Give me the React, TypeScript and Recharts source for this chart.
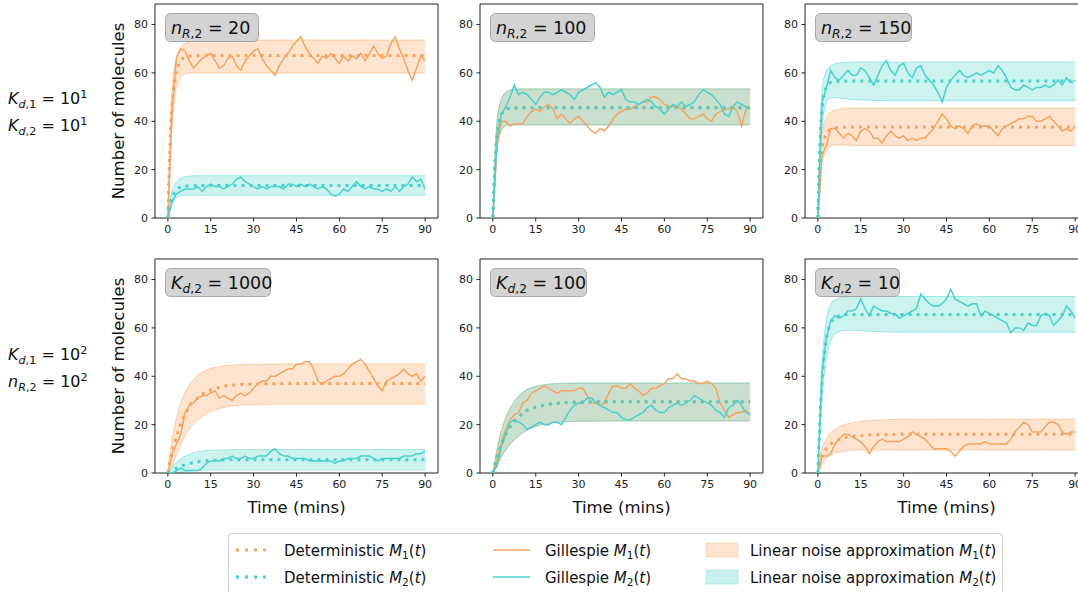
import React from "react";
import {
  ComposedChart,
  Area,
  Line,
  XAxis,
  YAxis,
  ReferenceArea,
} from "recharts";

const ORANGE = "#F4A460";
const CYAN = "#48D1CC";
const FONT = "DejaVu Sans";

const X_TICKS = [0, 15, 30, 45, 60, 75, 90];
const Y_TICKS = [0, 20, 40, 60, 80];

// time grid for deterministic curves and noise bands
const T_DET = [0, 0.5, 1, 1.5, 2, 3, 4, 5, 6, 8, 10, 12, 15, 20, 25, 30, 40, 50, 60, 70, 80, 90];

// time grid for Gillespie traces
const T_GIL = [
  0, 1.5, 3, 4.5, 6, 7.5, 9, 10.5, 12, 13.5,
  15, 16.5, 18, 19.5, 21, 22.5, 24, 25.5, 27, 28.5,
  30, 31.5, 33, 34.5, 36, 37.5, 39, 40.5, 42, 43.5,
  45, 46.5, 48, 49.5, 51, 52.5, 54, 55.5, 57, 58.5,
  60, 61.5, 63, 64.5, 66, 67.5, 69, 70.5, 72, 73.5,
  75, 76.5, 78, 79.5, 81, 82.5, 84, 85.5, 87, 88.5,
  90,
];

// ---- panel A: n_R,2 = 20
const A_DET1 = [0, 22, 37, 47, 53.5, 61, 64.3, 65.8, 66.5, 67, 67.1, 67.2, 67.2, 67.2, 67.2, 67.2, 67.2, 67.2, 67.2, 67.2, 67.2, 67.2];
const A_HI1 = [0, 27, 44, 54, 60.5, 67, 70, 71.5, 72.2, 73, 73.3, 73.5, 73.6, 73.6, 73.6, 73.6, 73.6, 73.6, 73.6, 73.6, 73.6, 73.6];
const A_LO1 = [0, 16, 30, 39, 46, 54, 57.5, 59, 59.6, 60, 60, 60, 60, 60, 60, 60, 60, 60, 60, 60, 60, 60];
const A_DET2 = [0, 3.5, 6.5, 8.5, 10, 11.8, 12.6, 13, 13.2, 13.3, 13.4, 13.4, 13.4, 13.4, 13.4, 13.4, 13.4, 13.4, 13.4, 13.4, 13.4, 13.4];
const A_HI2 = [0, 5, 9, 11.5, 13, 15, 16.2, 16.8, 17.1, 17.4, 17.5, 17.5, 17.5, 17.5, 17.5, 17.5, 17.5, 17.5, 17.5, 17.5, 17.5, 17.5];
const A_LO2 = [0, 2, 4, 5.5, 7, 8.5, 9.1, 9.3, 9.4, 9.4, 9.4, 9.4, 9.4, 9.4, 9.4, 9.4, 9.4, 9.4, 9.4, 9.4, 9.4, 9.4];
const A_GIL1 = [
  0, 45, 66, 70, 69, 65, 62, 64, 66, 67,
  68, 65, 62, 63, 66, 67, 63, 61, 65, 67,
  69, 70, 66, 63, 61, 59, 63, 66, 68, 71,
  73, 75, 71, 68, 66, 64, 67, 66, 68, 66,
  64, 67, 65, 67, 66, 68, 65, 68, 71, 68,
  66, 67, 72, 75, 70, 66, 61, 57, 62, 67,
  65,
];
const A_GIL2 = [
  0, 7, 10, 11, 12, 12, 12, 13, 11, 13,
  14, 13, 13, 12, 13, 14, 16, 17, 15, 14,
  13, 12, 13, 12, 13, 13, 13, 12, 14, 14,
  13, 14, 13, 14, 13, 12, 13, 12, 10, 9,
  10, 12, 11, 13, 15, 13, 12, 13, 12, 12,
  11, 12, 11, 13, 11, 13, 14, 17, 15, 16,
  12,
];

// ---- panel B: n_R,2 = 100
const B_DET1 = [0, 16, 28, 35, 39, 43, 44.5, 45.2, 45.4, 45.5, 45.6, 45.6, 45.6, 45.6, 45.6, 45.6, 45.6, 45.6, 45.6, 45.6, 45.6, 45.6];
const B_HI1 = [0, 20, 33, 41, 45, 49.5, 51.5, 52.5, 53, 53.3, 53.4, 53.4, 53.4, 53.4, 53.4, 53.4, 53.4, 53.4, 53.4, 53.4, 53.4, 53.4];
const B_LO1 = [0, 12, 23, 29, 33, 36.5, 37.8, 38.3, 38.5, 38.5, 38.5, 38.5, 38.5, 38.5, 38.5, 38.5, 38.5, 38.5, 38.5, 38.5, 38.5, 38.5];
const B_DET2 = [0, 16, 28, 35, 39, 43, 44.5, 45.2, 45.4, 45.5, 45.6, 45.6, 45.6, 45.6, 45.6, 45.6, 45.6, 45.6, 45.6, 45.6, 45.6, 45.6];
const B_HI2 = [0, 20, 33, 41, 45, 49.5, 51.5, 52.5, 53, 53.3, 53.4, 53.4, 53.4, 53.4, 53.4, 53.4, 53.4, 53.4, 53.4, 53.4, 53.4, 53.4];
const B_LO2 = [0, 12, 23, 29, 33, 36.5, 37.8, 38.3, 38.5, 38.5, 38.5, 38.5, 38.5, 38.5, 38.5, 38.5, 38.5, 38.5, 38.5, 38.5, 38.5, 38.5];
const B_GIL1 = [
  0, 30, 40, 40, 38, 39, 39, 39, 42, 44,
  45, 44, 46, 47, 45, 41, 43, 41, 39, 41,
  42, 40, 38, 36, 35, 37, 36, 38, 41, 43,
  44, 45, 45, 46, 47, 48, 48, 50, 50, 49,
  47, 46, 46, 46, 45, 43, 41, 41, 42, 43,
  41, 40, 43, 44, 45, 45, 46, 44, 38, 45,
  46,
];
const B_GIL2 = [
  0, 34, 43, 46, 50, 55, 51, 52, 51, 49,
  47, 50, 52, 52, 51, 52, 53, 52, 51, 49,
  52, 53, 54, 55, 56, 54, 50, 52, 51, 52,
  53, 49, 48, 48, 47, 48, 49, 48, 46, 45,
  43, 45, 47, 46, 48, 46, 47, 48, 51, 53,
  52, 51, 49, 47, 43, 42, 46, 48, 47, 46,
  45,
];

// ---- panel C: n_R,2 = 150
const C_DET1 = [0, 17, 25, 29.5, 32, 35, 36.3, 37, 37.3, 37.5, 37.6, 37.6, 37.6, 37.6, 37.6, 37.6, 37.6, 37.6, 37.6, 37.6, 37.6, 37.6];
const C_HI1 = [0, 21, 31, 36, 39, 42, 43.5, 44.3, 44.8, 45.2, 45.4, 45.5, 45.5, 45.5, 45.5, 45.5, 45.5, 45.5, 45.5, 45.5, 45.5, 45.5];
const C_LO1 = [0, 13, 19.5, 23.5, 25.5, 28, 29.3, 30, 30.2, 30.2, 30.1, 30, 30, 30, 30, 30, 30, 30, 30, 30, 30, 30];
const C_DET2 = [0, 24, 38, 46, 50.5, 54.5, 55.8, 56.3, 56.5, 56.6, 56.7, 56.7, 56.7, 56.7, 56.7, 56.7, 56.7, 56.7, 56.7, 56.7, 56.7, 56.7];
const C_HI2 = [0, 30, 45, 53, 57.5, 61, 62.5, 63.3, 63.8, 64.2, 64.4, 64.5, 64.5, 64.5, 64.5, 64.5, 64.5, 64.5, 64.5, 64.5, 64.5, 64.5];
const C_LO2 = [0, 18, 31, 39, 43.5, 48, 49.5, 49.8, 49.8, 49.5, 49.2, 49, 48.8, 48.6, 48.5, 48.5, 48.5, 48.5, 48.5, 48.5, 48.5, 48.5];
const C_GIL1 = [
  0, 26, 30, 37, 37, 35, 33, 35, 34, 32,
  36, 37, 36, 33, 33, 31, 34, 36, 34, 33,
  34, 32, 33, 32, 33, 33, 35, 37, 40, 43,
  41, 38, 37, 38, 37, 35, 38, 39, 38, 38,
  38, 36, 34, 37, 38, 39, 40, 41, 41, 42,
  42, 40, 40, 41, 42, 40, 38, 36, 37, 36,
  38,
];
const C_GIL2 = [
  0, 48, 54, 61, 58, 57, 59, 61, 59, 59,
  62, 61, 58, 55, 59, 63, 65, 61, 59, 63,
  64, 60, 58, 62, 63, 59, 57, 55, 52, 48,
  54, 57, 59, 61, 59, 58, 59, 60, 59, 60,
  61, 60, 63, 61, 58, 54, 53, 53, 55, 54,
  53, 54, 54, 55, 54, 55, 57, 55, 58, 56,
  57,
];

// ---- panel D: K_d,2 = 1000
const D_DET1 = [0, 3.2, 6, 8.6, 11, 15.2, 18.8, 21.7, 24.2, 28.5, 30.7, 32.6, 34.4, 36, 36.6, 36.8, 37, 37, 37, 37, 37, 37];
const D_HI1 = [0, 6, 10.5, 14.5, 17.5, 23, 27, 30.5, 33.5, 37.5, 40, 41.8, 43.3, 44.4, 44.8, 45, 45.1, 45.1, 45.1, 45.1, 45.1, 45.1];
const D_LO1 = [0, 0.5, 1.5, 2.8, 4.5, 7.5, 10.5, 13, 15.2, 19, 21.5, 23.5, 25.5, 27.3, 28, 28.3, 28.5, 28.5, 28.5, 28.5, 28.5, 28.5];
const D_DET2 = [0, 0.3, 0.7, 1, 1.3, 1.9, 2.5, 3, 3.4, 4.1, 4.6, 4.9, 5.2, 5.4, 5.5, 5.5, 5.5, 5.5, 5.5, 5.5, 5.5, 5.5];
const D_HI2 = [0, 0.8, 1.6, 2.4, 3.1, 4.4, 5.4, 6.3, 7, 8, 8.7, 9.1, 9.4, 9.6, 9.7, 9.7, 9.7, 9.7, 9.7, 9.7, 9.7, 9.7];
const D_LO2 = [0, 0, 0, 0, 0, 0, 0.2, 0.4, 0.5, 0.8, 1, 1.1, 1.2, 1.3, 1.3, 1.3, 1.3, 1.3, 1.3, 1.3, 1.3, 1.3];
const D_GIL1 = [
  0, 8, 12, 16, 25, 28, 29, 31, 32, 32,
  33, 34, 31, 32, 31, 30, 32, 33, 32, 33,
  35, 37, 38, 38, 40, 40, 41, 42, 43, 43,
  45, 45, 46, 46, 43, 38, 37, 38, 39, 40,
  40, 41, 43, 45, 46, 47, 45, 42, 39, 36,
  34, 38, 39, 40, 41, 43, 41, 40, 41, 38,
  40,
];
const D_GIL2 = [
  0, 0, 1, 2, 1, 1, 1, 1, 2, 4,
  5, 5, 5, 6, 6, 7, 6, 6, 7, 6,
  6, 7, 7, 7, 9, 10, 8, 7, 7, 6,
  6, 6, 6, 5, 5, 5, 5, 5, 5, 4,
  5, 5, 6, 6, 6, 7, 7, 7, 6, 5,
  6, 6, 6, 6, 6, 7, 7, 7, 8, 8,
  9,
];

// ---- panel E: K_d,2 = 100
const E_DET1 = [0, 2.4, 4.6, 6.7, 8.6, 12, 14.8, 17.1, 19.1, 22.1, 24.3, 25.9, 27.3, 28.5, 29.1, 29.3, 29.5, 29.5, 29.5, 29.5, 29.5, 29.5];
const E_HI1 = [0, 3.5, 7, 10, 12.8, 17.5, 21.3, 24.3, 26.8, 30.5, 33, 34.6, 35.9, 36.8, 37.1, 37.2, 37.2, 37.2, 37.2, 37.2, 37.2, 37.2];
const E_LO1 = [0, 1.3, 2.4, 3.4, 4.5, 6.6, 8.6, 10.3, 11.8, 14.3, 16.2, 17.8, 19.3, 20.7, 21.2, 21.4, 21.5, 21.5, 21.5, 21.5, 21.5, 21.5];
const E_DET2 = [0, 2.4, 4.6, 6.7, 8.6, 12, 14.8, 17.1, 19.1, 22.1, 24.3, 25.9, 27.3, 28.5, 29.1, 29.3, 29.5, 29.5, 29.5, 29.5, 29.5, 29.5];
const E_HI2 = [0, 3.5, 7, 10, 12.8, 17.5, 21.3, 24.3, 26.8, 30.5, 33, 34.6, 35.9, 36.8, 37.1, 37.2, 37.2, 37.2, 37.2, 37.2, 37.2, 37.2];
const E_LO2 = [0, 1.3, 2.4, 3.4, 4.5, 6.6, 8.6, 10.3, 11.8, 14.3, 16.2, 17.8, 19.3, 20.7, 21.2, 21.4, 21.5, 21.5, 21.5, 21.5, 21.5, 21.5];
const E_GIL1 = [
  0, 6, 13, 18, 22, 24, 25, 29, 30, 33,
  34, 35, 36, 35, 34, 33, 34, 34, 34, 34,
  35, 35, 32, 29, 29, 28, 29, 33, 36, 36,
  35, 35, 37, 35, 34, 32, 33, 35, 35, 36,
  37, 39, 39, 41, 39, 39, 38, 38, 37, 37,
  38, 37, 35, 29, 26, 23, 24, 25, 25, 26,
  24,
];
const E_GIL2 = [
  0, 3, 11, 16, 21, 22, 21, 20, 18, 19,
  20, 21, 20, 20, 21, 21, 20, 23, 26, 28,
  29, 29, 31, 31, 29, 28, 27, 26, 25, 25,
  23, 22, 22, 23, 24, 25, 27, 28, 26, 25,
  25, 27, 28, 29, 28, 29, 30, 32, 31, 30,
  29, 28, 26, 25, 23, 27, 28, 30, 28, 25,
  24,
];

// ---- panel F: K_d,2 = 10
const F_DET1 = [0, 3, 5.3, 7, 8.3, 10.2, 11.5, 12.5, 13.2, 14.2, 14.8, 15.2, 15.5, 15.8, 15.9, 16, 16, 16, 16, 16, 16, 16];
const F_HI1 = [0, 5, 8.3, 10.5, 12, 14.3, 16, 17.2, 18.1, 19.4, 20.2, 20.8, 21.4, 21.9, 22.1, 22.2, 22.3, 22.3, 22.3, 22.3, 22.3, 22.3];
const F_LO1 = [0, 1, 2.3, 3.5, 4.5, 6.1, 7, 7.8, 8.3, 8.9, 9.2, 9.4, 9.5, 9.5, 9.5, 9.5, 9.5, 9.5, 9.5, 9.5, 9.5, 9.5];
const F_DET2 = [0, 16, 29, 39, 46.5, 56, 60.5, 63, 64.3, 65.2, 65.5, 65.5, 65.5, 65.5, 65.5, 65.5, 65.5, 65.5, 65.5, 65.5, 65.5, 65.5];
const F_HI2 = [0, 21, 36, 47, 54.5, 64, 68.5, 70.8, 71.8, 72.5, 72.8, 72.9, 73, 73, 73, 73, 73, 73, 73, 73, 73, 73];
const F_LO2 = [0, 11, 22, 31, 38.5, 48, 53, 56, 57.5, 58.8, 59, 59, 58.8, 58.5, 58.3, 58.2, 58.2, 58.2, 58.2, 58.2, 58.2, 58.2];
const F_GIL1 = [
  0, 7, 7, 8, 12, 14, 16, 16, 15, 14,
  13, 11, 8, 11, 13, 14, 13, 13, 13, 13,
  14, 15, 17, 16, 15, 14, 12, 10, 10, 10,
  10, 9, 7, 9, 11, 12, 12, 12, 12, 13,
  12, 12, 12, 12, 12, 14, 17, 19, 21, 20,
  17, 17, 17, 19, 21, 21, 20, 17, 16, 17,
  17,
];
const F_GIL2 = [
  0, 42, 56, 63, 65, 64, 65, 67, 67, 68,
  72, 68, 65, 69, 68, 67, 67, 66, 66, 64,
  65, 66, 67, 68, 74, 72, 70, 69, 69, 70,
  72, 76, 72, 71, 70, 69, 70, 70, 65, 67,
  66, 65, 64, 63, 62, 58, 60, 60, 59, 62,
  61, 61, 65, 66, 65, 61, 63, 65, 69, 67,
  64,
];

const PANELS = [
  { det1: A_DET1, hi1: A_HI1, lo1: A_LO1, det2: A_DET2, hi2: A_HI2, lo2: A_LO2, gil1: A_GIL1, gil2: A_GIL2, sym: "n", sub: "R", val: "20" },
  { det1: B_DET1, hi1: B_HI1, lo1: B_LO1, det2: B_DET2, hi2: B_HI2, lo2: B_LO2, gil1: B_GIL1, gil2: B_GIL2, sym: "n", sub: "R", val: "100" },
  { det1: C_DET1, hi1: C_HI1, lo1: C_LO1, det2: C_DET2, hi2: C_HI2, lo2: C_LO2, gil1: C_GIL1, gil2: C_GIL2, sym: "n", sub: "R", val: "150" },
  { det1: D_DET1, hi1: D_HI1, lo1: D_LO1, det2: D_DET2, hi2: D_HI2, lo2: D_LO2, gil1: D_GIL1, gil2: D_GIL2, sym: "K", sub: "d", val: "1000" },
  { det1: E_DET1, hi1: E_HI1, lo1: E_LO1, det2: E_DET2, hi2: E_HI2, lo2: E_LO2, gil1: E_GIL1, gil2: E_GIL2, sym: "K", sub: "d", val: "100" },
  { det1: F_DET1, hi1: F_HI1, lo1: F_LO1, det2: F_DET2, hi2: F_HI2, lo2: F_LO2, gil1: F_GIL1, gil2: F_GIL2, sym: "K", sub: "d", val: "10" },
];

const COL_X = [155, 480, 805];
const ROW_Y = [4, 259];
const PLOT_W = 283;
const PLOT_H = 214;
const Y_AXIS_W = 40;
const BOX_W = [93, 104, 96, 105, 96, 84];

const tickStyle = { fill: "#222", fontSize: 11, fontFamily: FONT };

function Panel({ p, left, top }) {
  const detData = T_DET.map((t, i) => ({
    t,
    d1: p.det1[i],
    d2: p.det2[i],
    b1: [p.lo1[i], p.hi1[i]],
    b2: [p.lo2[i], p.hi2[i]],
  }));
  const g1 = T_GIL.map((t, i) => ({ t, v: p.gil1[i] }));
  const g2 = T_GIL.map((t, i) => ({ t, v: p.gil2[i] }));

  return (
    <div style={{ position: "absolute", left: left - Y_AXIS_W, top: top - 5 }}>
      <ComposedChart
        width={Y_AXIS_W + PLOT_W + 5}
        height={PLOT_H + 35}
        data={detData}
        margin={{ top: 5, right: 5, bottom: 0, left: 0 }}
      >
        <XAxis
          dataKey="t"
          type="number"
          domain={[-4.5, 94.5]}
          ticks={X_TICKS}
          allowDataOverflow
          height={30}
          axisLine={false}
          tickSize={3.5}
          tickMargin={4}
          tickLine={{ stroke: "#222" }}
          tick={tickStyle}
        />
        <YAxis
          type="number"
          domain={[0, 88.5]}
          ticks={Y_TICKS}
          allowDataOverflow
          width={Y_AXIS_W}
          axisLine={false}
          tickSize={3.5}
          tickMargin={3.5}
          tickLine={{ stroke: "#222" }}
          tick={tickStyle}
        />
        <Area
          dataKey="b1"
          type="linear"
          stroke={ORANGE}
          strokeOpacity={0.45}
          fill={ORANGE}
          fillOpacity={0.3}
          isAnimationActive={false}
        />
        <Area
          dataKey="b2"
          type="linear"
          stroke={CYAN}
          strokeOpacity={0.45}
          fill={CYAN}
          fillOpacity={0.27}
          isAnimationActive={false}
        />
        <Line data={g1} dataKey="v" type="linear" stroke={ORANGE} strokeWidth={1.5} dot={false} isAnimationActive={false} />
        <Line data={g2} dataKey="v" type="linear" stroke={CYAN} strokeWidth={1.5} dot={false} isAnimationActive={false} />
        <Line dataKey="d1" type="linear" stroke={ORANGE} strokeWidth={3} strokeDasharray="3 5" dot={false} isAnimationActive={false} />
        <Line dataKey="d2" type="linear" stroke={CYAN} strokeWidth={3} strokeDasharray="3 5" dot={false} isAnimationActive={false} />
        <ReferenceArea x1={-4.5} x2={94.5} y1={0} y2={88.5} fill="none" stroke="#222" strokeWidth={1} ifOverflow="visible" />
      </ComposedChart>
    </div>
  );
}

// text with mathtext style: italic symbol, subscript, then upright tail and optional superscript
function MathText({ x, y, size, sym, subI, subR, tail, sup, fill = "#111" }) {
  const s = size * 0.7;
  const down = size * 0.22;
  return (
    <text x={x} y={y} fontFamily={FONT} fontSize={size} fill={fill}>
      <tspan fontStyle="italic">{sym}</tspan>
      <tspan fontSize={s} dy={down} fontStyle="italic">{subI}</tspan>
      <tspan fontSize={s}>{subR}</tspan>
      <tspan dy={-down}>{tail}</tspan>
      {sup ? <tspan fontSize={s} dy={-size * 0.38}>{sup}</tspan> : null}
    </text>
  );
}

function LegendLabel({ x, y, pre, idx }) {
  return (
    <text x={x} y={y} fontFamily={FONT} fontSize={15} fill="#111">
      <tspan>{pre}</tspan>
      <tspan fontStyle="italic">M</tspan>
      <tspan fontSize={10.5} dy={3}>{idx}</tspan>
      <tspan dy={-3}>(</tspan>
      <tspan fontStyle="italic">t</tspan>
      <tspan>)</tspan>
    </text>
  );
}

function Overlay() {
  const rows = [550, 577];
  return (
    <svg width={1078} height={592} style={{ position: "absolute", left: 0, top: 0, pointerEvents: "none" }}>
      {PANELS.map((p, i) => {
        const cx = COL_X[i % 3];
        const ry = ROW_Y[Math.floor(i / 3)];
        const bx = cx + 10;
        const by = ry + 9;
        return (
          <g key={i}>
            <rect x={bx + 0.5} y={by + 0.5} width={BOX_W[i]} height={28} rx={5} fill="#d3d3d3" stroke="#a8a8a8" strokeWidth={1} />
            <MathText x={bx + 6} y={by + 21} size={17.5} sym={p.sym} subI={p.sub} subR=",2" tail={" = " + p.val} />
          </g>
        );
      })}

      {/* y labels */}
      {ROW_Y.map((ry, i) => (
        <text
          key={"yl" + i}
          x={0}
          y={0}
          transform={`translate(124 ${ry + PLOT_H / 2}) rotate(-90)`}
          textAnchor="middle"
          fontFamily={FONT}
          fontSize={16.5}
          fill="#111"
        >
          Number of molecules
        </text>
      ))}

      {/* x labels */}
      {COL_X.map((cx, i) => (
        <text key={"xl" + i} x={cx + PLOT_W / 2} y={513} textAnchor="middle" fontFamily={FONT} fontSize={16.5} fill="#111">
          Time (mins)
        </text>
      ))}

      {/* row annotations */}
      <MathText x={8} y={104} size={16} sym="K" subI="d" subR=",1" tail=" = 10" sup="1" />
      <MathText x={8} y={131} size={16} sym="K" subI="d" subR=",2" tail=" = 10" sup="1" />
      <MathText x={8} y={360} size={16} sym="K" subI="d" subR=",1" tail=" = 10" sup="2" />
      <MathText x={8} y={387} size={16} sym="n" subI="R" subR=",2" tail=" = 10" sup="2" />

      {/* legend */}
      <rect x={228.5} y={533.5} width={774} height={70} rx={4} fill="#fff" stroke="#d0d0d0" />
      {rows.map((ry, i) => {
        const c = i === 0 ? ORANGE : CYAN;
        const idx = String(i + 1);
        return (
          <g key={"lg" + i}>
            <line x1={236} x2={268} y1={ry} y2={ry} stroke={c} strokeWidth={3} strokeDasharray="3 6" />
            <LegendLabel x={284} y={ry + 5.5} pre="Deterministic " idx={idx} />
            <line x1={493} x2={530} y1={ry} y2={ry} stroke={c} strokeWidth={1.5} />
            <LegendLabel x={545} y={ry + 5.5} pre="Gillespie " idx={idx} />
            <rect x={706} y={ry - 7} width={32} height={14} fill={c} fillOpacity={0.3} stroke={c} strokeOpacity={0.3} />
            <LegendLabel x={750} y={ry + 5.5} pre="Linear noise approximation " idx={idx} />
          </g>
        );
      })}
    </svg>
  );
}

export default function App() {
  return (
    <div
      style={{
        position: "absolute",
        left: 0,
        top: 0,
        width: 1078,
        height: 592,
        overflow: "hidden",
        background: "#fff",
        fontFamily: FONT,
      }}
    >
      {PANELS.map((p, i) => (
        <Panel key={i} p={p} left={COL_X[i % 3]} top={ROW_Y[Math.floor(i / 3)]} />
      ))}
      <Overlay />
    </div>
  );
}
